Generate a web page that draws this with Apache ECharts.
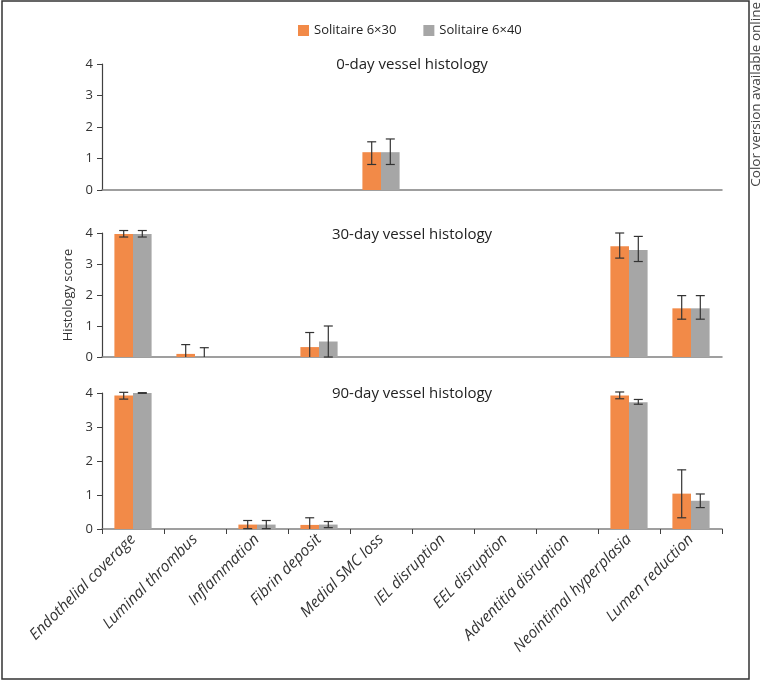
<!DOCTYPE html>
<html>
<head>
<meta charset="utf-8">
<script src="https://cdn.jsdelivr.net/npm/echarts@6/dist/echarts.min.js"></script>
<style>html,body{margin:0;padding:0;background:#fff}#c{width:762px;height:682px}</style>
</head>
<body>
<div id="c"></div>
<script>
const categories = ['Endothelial coverage','Luminal thrombus','Inflammation','Fibrin deposit','Medial SMC loss','IEL disruption','EEL disruption','Adventitia disruption','Neointimal hyperplasia','Lumen reduction'];
const seriesNames = ['Solitaire 6×30','Solitaire 6×40'];
const panelTitles = ['0-day vessel histology','30-day vessel histology','90-day vessel histology'];
const yTicks = [0,1,2,3,4];

// 0-day
const day0_630 = [0,0,0,0,1.2,0,0,0,0,0];
const day0_630_lo = [null,null,null,null,0.81,null,null,null,null,null];
const day0_630_hi = [null,null,null,null,1.53,null,null,null,null,null];
const day0_640 = [0,0,0,0,1.2,0,0,0,0,0];
const day0_640_lo = [null,null,null,null,0.81,null,null,null,null,null];
const day0_640_hi = [null,null,null,null,1.62,null,null,null,null,null];

// 30-day
const day30_630 = [3.97,0.1,0,0.32,0,0,0,0,3.57,1.57];
const day30_630_lo = [3.87,-0.2,null,-0.15,null,null,null,null,3.19,1.22];
const day30_630_hi = [4.08,0.4,null,0.79,null,null,null,null,4.0,1.98];
const day30_640 = [3.97,0,0,0.5,0,0,0,0,3.45,1.57];
const day30_640_lo = [3.87,-0.3,null,0.0,null,null,null,null,3.08,1.22];
const day30_640_hi = [4.08,0.3,null,1.0,null,null,null,null,3.89,1.98];

// 90-day
const day90_630 = [3.93,0,0.13,0.12,0,0,0,0,3.93,1.04];
const day90_630_lo = [3.82,null,0.01,-0.09,null,null,null,null,3.83,0.33];
const day90_630_hi = [4.02,null,0.25,0.33,null,null,null,null,4.03,1.74];
const day90_640 = [4.0,0,0.13,0.13,0,0,0,0,3.73,0.83];
const day90_640_lo = [3.99,null,0.01,0.04,null,null,null,null,3.67,0.63];
const day90_640_hi = [4.01,null,0.25,0.22,null,null,null,null,3.81,1.03];

const panels = [
  {a:day0_630, aLo:day0_630_lo, aHi:day0_630_hi, b:day0_640, bLo:day0_640_lo, bHi:day0_640_hi},
  {a:day30_630, aLo:day30_630_lo, aHi:day30_630_hi, b:day30_640, bLo:day30_640_lo, bHi:day30_640_hi},
  {a:day90_630, aLo:day90_630_lo, aHi:day90_630_hi, b:day90_640, bLo:day90_640_lo, bHi:day90_640_hi}
];

const colors = ['#F28A48','#A6A6A6'];
const grids = [
  {left:102, right:40, top:64, height:126},
  {left:102, right:40, top:233, height:124},
  {left:102, right:40, top:393, height:136}
];
const titleCenters = [65, 235, 394];
const FONT = 'Open Sans';

function errData(lo, hi){
  const out = [];
  lo.forEach((v,i)=>{ if(v!==null && hi[i]!==null) out.push([i, v, hi[i]]); });
  return out;
}
function errRender(sign){
  return function(params, api){
    const cat = api.value(0), lo = api.value(1), hi = api.value(2);
    const bw = api.size([1,0])[0];
    const off = sign*bw*0.15;
    const capW = 4.5;
    const top = api.coord([cat, hi]);
    const bot = api.coord([cat, Math.max(lo,0)]);
    const x = top[0] + off;
    const st = {stroke:'#333', lineWidth:1.2};
    const ch = [
      {type:'line', shape:{x1:x,y1:top[1],x2:x,y2:bot[1]}, style:st},
      {type:'line', shape:{x1:x-capW,y1:top[1],x2:x+capW,y2:top[1]}, style:st}
    ];
    if(lo >= 0) ch.push({type:'line', shape:{x1:x-capW,y1:bot[1],x2:x+capW,y2:bot[1]}, style:st});
    return {type:'group', children:ch};
  };
}

const xAxes = [], yAxes = [], series = [], titles = [];
panels.forEach((p, k)=>{
  const last = k===2;
  xAxes.push({
    type:'category', gridIndex:k, data:categories,
    axisLine:{show:true, lineStyle:{color:'#808080', width:1.5}},
    axisTick:{show:last, length:5, lineStyle:{color:'#404040'}},
    axisLabel:{show:last, interval:0, rotate:45, fontStyle:'italic', fontFamily:FONT, fontSize:15.5, color:'#333', margin:8}
  });
  yAxes.push({
    type:'value', gridIndex:k, min:yTicks[0], max:yTicks[yTicks.length-1], interval:1,
    splitLine:{show:false},
    axisLine:{show:true, lineStyle:{color:'#404040', width:1.2}},
    axisTick:{show:true, length:5, lineStyle:{color:'#404040'}},
    axisLabel:{fontFamily:FONT, fontSize:13, color:'#333', margin:9},
    name: k===1 ? 'Histology score' : '',
    nameLocation:'middle', nameGap:26,
    nameTextStyle:{fontFamily:FONT, fontSize:13, color:'#333'}
  });
  series.push({name:seriesNames[0], type:'bar', xAxisIndex:k, yAxisIndex:k, data:p.a, barGap:'0%', barCategoryGap:'40%', itemStyle:{color:colors[0]}, silent:true});
  series.push({name:seriesNames[1], type:'bar', xAxisIndex:k, yAxisIndex:k, data:p.b, barGap:'0%', barCategoryGap:'40%', itemStyle:{color:colors[1]}, silent:true});
  series.push({type:'custom', xAxisIndex:k, yAxisIndex:k, data:errData(p.aLo,p.aHi), renderItem:errRender(-1), clip:false, z:5, silent:true});
  series.push({type:'custom', xAxisIndex:k, yAxisIndex:k, data:errData(p.bLo,p.bHi), renderItem:errRender(1), clip:false, z:5, silent:true});
  titles.push({text:panelTitles[k], left:412, textAlign:'center', top:titleCenters[k]-10, padding:0,
    textStyle:{fontFamily:FONT, fontSize:15, fontWeight:'normal', color:'#222', lineHeight:20}});
});

const chart = echarts.init(document.getElementById('c'), null, {renderer:'canvas'});
chart.setOption({
  animation:false,
  title: titles,
  legend:{
    data:seriesNames, left:298, top:24, itemWidth:11, itemHeight:11, itemGap:27,
    icon:'rect', textStyle:{fontFamily:FONT, fontSize:13, color:'#222'}, padding:0
  },
  grid: grids,
  xAxis: xAxes,
  yAxis: yAxes,
  series: series,
  graphic:[
    {type:'rect', shape:{x:2, y:1, width:747, height:678}, style:{fill:'none', stroke:'#333', lineWidth:1.5}, silent:true},
    {type:'text', x:756, y:2, rotation:Math.PI/2,
     style:{text:'Color version available online', font:'13.5px "Open Sans"', fill:'#444', textAlign:'right', textVerticalAlign:'middle'}, silent:true}
  ]
});
</script>
</body>
</html>
